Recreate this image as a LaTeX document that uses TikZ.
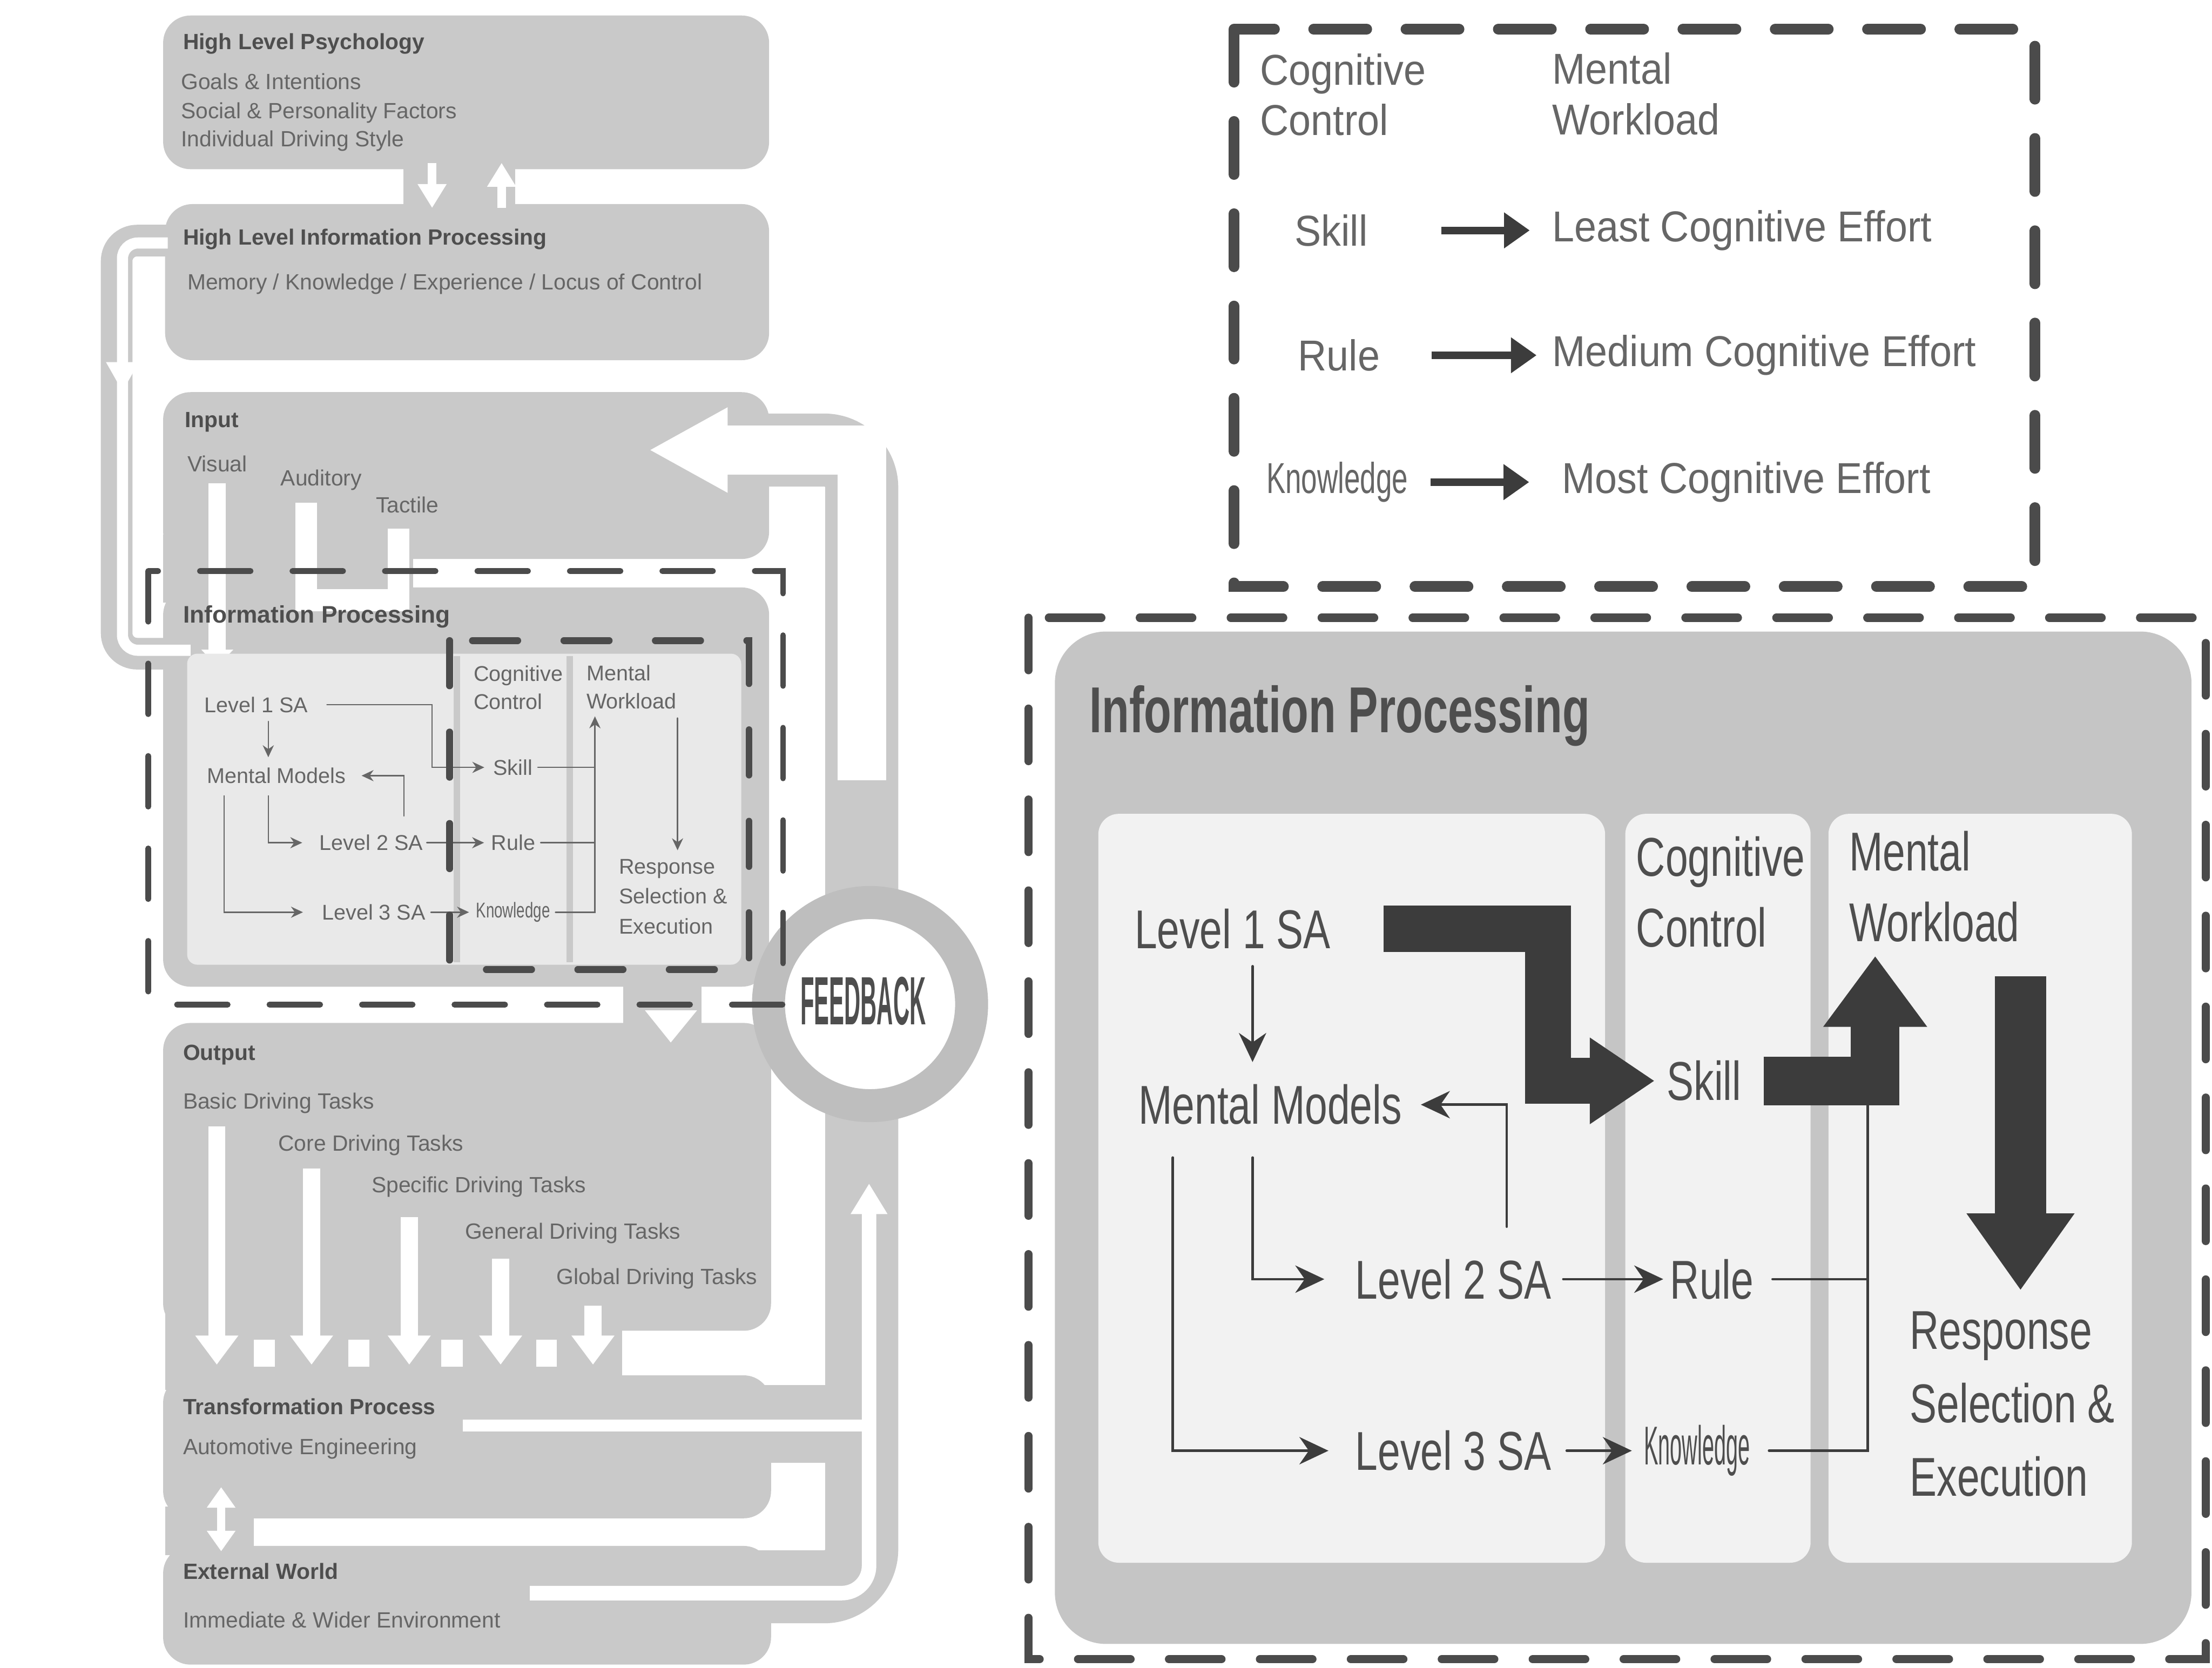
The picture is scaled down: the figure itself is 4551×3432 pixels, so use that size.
\documentclass[tikz,border=0pt]{standalone}
\usepackage{fontspec}
\setmainfont{Liberation Sans}
\usetikzlibrary{arrows.meta,positioning}
\definecolor{boxgray}{HTML}{C9C9C9}
\definecolor{ringgray}{HTML}{BEBEBE}
\definecolor{ipgray}{HTML}{C5C5C5}
\definecolor{panelgray}{HTML}{F2F2F2}
\definecolor{panelL}{HTML}{E9E9E9}
\definecolor{dashgray}{HTML}{4B4B4B}
\definecolor{txtdark}{HTML}{4E4E4E}
\definecolor{txtmid}{HTML}{666666}
\definecolor{inkdark}{HTML}{3C3C3C}

\begin{document}
\begin{tikzpicture}[x=0.01cm,y=-0.01cm,line cap=round,
  lbox/.style={fill=boxgray,rounded corners=16pt,inner sep=0pt},
  lhead/.style={anchor=west,inner sep=0pt,text=txtdark,font=\fontsize{12.9}{15}\selectfont\bfseries},
  lsub/.style={anchor=west,inner sep=0pt,text=txtmid,font=\fontsize{12.9}{15}\selectfont},
  stxt/.style={anchor=west,inner sep=0pt,text=txtmid,align=left,font=\fontsize{12.5}{16.5}\selectfont},
  rtxt/.style={anchor=west,inner sep=0pt,text=txtdark,align=left,xscale=0.74,font=\fontsize{32}{41.5}\selectfont},
  gtxt/.style={anchor=west,inner sep=0pt,text=txtmid,align=left,xscale=0.92,font=\fontsize{25.3}{29.6}\selectfont},
  panel/.style={fill=panelgray,rounded corners=12pt,inner sep=0pt,minimum height=15.4cm},
  sarr/.style={draw=txtmid,line width=0.8pt,-{Stealth[length=7pt,width=6.5pt]}},
  sline/.style={draw=txtmid,line width=0.8pt},
  tarr/.style={draw=inkdark,line width=1.5pt,-{Stealth[length=17pt,width=16pt]}},
  tline/.style={draw=inkdark,line width=1.5pt},
  larr/.style={draw=inkdark,line width=4.5pt,line cap=butt,-{Triangle[length=15pt,width=20pt]}},
  fat/.style={draw=inkdark,line cap=butt,line join=miter},
  wbar/.style={draw=white,line cap=butt},
  dashbox/.style={draw=dashgray,line cap=round}
]
\useasboundingbox (0,0) rectangle (4551,3432);

% gray feedback bands
\draw[boxgray,line width=42.7pt,line cap=butt,rounded corners=22pt] (1460,926) -- (1773,926) -- (1773,1860);
\draw[boxgray,line width=42.7pt,line cap=butt,rounded corners=22pt] (1773,2250) -- (1773,3265) -- (1480,3265);
\fill[boxgray] (1500,2850) rectangle (1773,3010);
\draw[boxgray,line width=18.5pt,line cap=butt,rounded corners=12pt] (350,495) -- (240,495) -- (240,1345) -- (350,1345);
\fill[boxgray] (830,330) rectangle (1060,440);
\fill[boxgray] (336,1100) rectangle (850,1240);
\fill[boxgray] (1282,2000) rectangle (1443,2130);
\fill[boxgray] (340,2700) rectangle (1280,2860);
\fill[boxgray] (340,3100) rectangle (522,3200);

% left column boxes
\node[lbox,minimum width=12.46cm,minimum height=3.16cm] (psych) at (959,190) {};
\node[lbox,minimum width=12.42cm,minimum height=3.21cm] (hlip) at (961,580.5) {};
\node[lbox,minimum width=12.46cm,minimum height=3.43cm] (input) at (959,978.5) {};
\node[lbox,minimum width=12.46cm,minimum height=8.21cm] (ipL) at (959,1619.5) {};
\node[lbox,minimum width=12.50cm,minimum height=6.33cm] (output) at (961,2421.5) {};
\node[lbox,minimum width=12.50cm,minimum height=2.94cm] (transf) at (961,2977) {};
\node[lbox,minimum width=12.50cm,minimum height=2.44cm] (world) at (961,3303) {};

\fill[white] (522,2757) rectangle (566,2812);
\fill[white] (717,2757) rectangle (760,2812);
\fill[white] (908,2757) rectangle (952,2812);
\fill[white] (1103,2757) rectangle (1146,2812);

% white flow arrows
\draw[wbar,line width=28.5pt] (1497,926) -- (1773,926) -- (1773,1606);
\fill[white] (1338,926) -- (1497,838) -- (1497,1014) -- cycle;
\draw[wbar,line width=6.5pt,rounded corners=9pt] (345,500) -- (252,500) -- (252,1338) -- (392,1338);
\fill[white] (218,745) -- (286,745) -- (252,805) -- cycle;
\draw[wbar,line width=5pt,-{Triangle[length=14pt,width=16pt]}] (889,335) -- (889,428);
\draw[wbar,line width=5pt,-{Triangle[length=14pt,width=16pt]}] (1032,428) -- (1032,335);
\draw[wbar,line width=10pt,-{Triangle[length=10pt,width=18pt]}] (447,994) -- (447,1372);
\draw[wbar,line width=12.8pt,line join=miter] (630,1034) -- (630,1235) -- (820,1235) -- (820,1088);
\fill[white] (1327,2079) -- (1434,2079) -- (1380,2145) -- cycle;
\draw[wbar,line width=10pt,-{Triangle[length=17pt,width=24pt]}] (446,2318) -- (446,2808);
\draw[wbar,line width=10pt,-{Triangle[length=17pt,width=24pt]}] (641,2404) -- (641,2808);
\draw[wbar,line width=10pt,-{Triangle[length=17pt,width=24pt]}] (842,2504) -- (842,2808);
\draw[wbar,line width=10pt,-{Triangle[length=17pt,width=24pt]}] (1030,2590) -- (1030,2808);
\draw[wbar,line width=10pt,-{Triangle[length=17pt,width=24pt]}] (1220,2686) -- (1220,2808);
\draw[wbar,line width=5pt,{Triangle[length=12pt,width=16pt]}-{Triangle[length=12pt,width=16pt]}] (455,3060) -- (455,3192);
\draw[wbar,line width=7pt] (952,2933) -- (1788,2933);
\draw[wbar,line width=8.5pt,rounded corners=16pt] (1788,2490) -- (1788,3278) -- (1090,3278);
\fill[white] (1788,2436) -- (1750,2498) -- (1826,2498) -- cycle;

% small information processing panel
\fill[panelL,rounded corners=6pt] (385,1345) rectangle (1525,1985);
\draw[boxgray,line width=4pt,line cap=butt] (940,1350) -- (940,1980);
\draw[boxgray,line width=4pt,line cap=butt] (1172,1350) -- (1172,1980);

% feedback ring
\draw[ringgray,line width=19.3pt,fill=white] (1790,2066) circle[radius=209];
\node[font=\fontsize{40}{40}\selectfont\bfseries,text=txtdark,xscale=0.33,inner sep=0pt] (fb) at (1776,2060) {FEEDBACK};

% left texts
\node[lhead] (psychT) at (376,90) {High Level Psychology};
\node[lsub] (goals) at (372,168) {Goals \& Intentions};
\node[lsub] (social) at (372,232) {Social \& Personality Factors};
\node[lsub] (drvstyle) at (372,290) {Individual Driving Style};
\node[lhead] (hlipT) at (376,492) {High Level Information Processing};
\node[lsub] (memory) at (385,584) {Memory / Knowledge / Experience / Locus of Control};
\node[lhead] (inputT) at (380,869) {Input};
\node[lsub] (visual) at (385,954) {Visual};
\node[lsub] (audit) at (577,988) {Auditory};
\node[lsub] (tact) at (773,1039) {Tactile};
\node[lhead,font=\fontsize{14}{16}\selectfont\bfseries] (ipLT) at (376,1269) {Information Processing};
\node[lhead] (outputT) at (376,2170) {Output};
\node[lsub] (basic) at (376,2270) {Basic Driving Tasks};
\node[lsub] (core) at (572,2356) {Core Driving Tasks};
\node[lsub] (specific) at (764,2442) {Specific Driving Tasks};
\node[lsub] (general) at (956,2538) {General Driving Tasks};
\node[lsub] (global) at (1144,2631) {Global Driving Tasks};
\node[lhead] (transfT) at (376,2894) {Transformation Process};
\node[lsub] (autoeng) at (376,2981) {Automotive Engineering};
\node[lhead] (worldT) at (376,3233) {External World};
\node[lsub] (environ) at (376,3333) {Immediate \& Wider Environment};

% small panel texts
\node[stxt] (sL1) at (420,1450) {Level 1 SA};
\node[stxt] (sMM) at (425,1596) {Mental Models};
\node[stxt] (sL2) at (657,1734) {Level 2 SA};
\node[stxt] (sL3) at (662,1877) {Level 3 SA};
\node[stxt] (sCC) at (974,1415) {Cognitive\\Control};
\node[stxt] (sMW) at (1206,1414) {Mental\\Workload};
\node[stxt] (sSk) at (1014,1579) {Skill};
\node[stxt] (sRu) at (1010,1734) {Rule};
\node[stxt,xscale=0.7] (sKn) at (979,1877) {Knowledge};
\node[stxt,font=\fontsize{12.5}{17.6}\selectfont] (sRe) at (1273,1845) {Response\\Selection \&\\Execution};
\coordinate (sb1) at (889,1500);
\coordinate (sv1) at (552,0);
\coordinate (sv2) at (461,0);
\coordinate (sv3) at (1224,0);
\coordinate (sv4) at (1394,0);
\coordinate (sfb) at (831,1679);
\draw[sarr,shorten <=11pt,shorten >=5pt] (sL1.east) -| (sb1) |- (sSk.west);
\draw[sarr,shorten <=5pt,shorten >=6pt] (sL1.south -| sv1) -- (sMM.north -| sv1);
\draw[sarr,shorten >=9pt] (sfb) |- (sMM.east);
\draw[sarr,shorten <=7pt,shorten >=10pt] (sMM.south -| sv1) |- (sL2.west);
\draw[sarr,shorten <=7pt,shorten >=11pt] (sMM.south -| sv2) |- (sL3.west);
\draw[sarr,shorten <=2pt,shorten >=4pt] (sL2.east) -- (sRu.west);
\draw[sarr,shorten <=3pt,shorten >=4pt] (sL3.east) -- (sKn.west);
\draw[sline,shorten <=3pt] (sSk.east) -- (sSk.east -| sv3);
\draw[sline,shorten <=3pt] (sRu.east) -- (sRu.east -| sv3);
\draw[sarr,shorten <=3pt,shorten >=4pt] (sKn.east) -| (sMW.south -| sv3);
\draw[sarr,shorten <=5pt,shorten >=5pt] (sMW.south -| sv4) -- (sRe.north -| sv4);

% dashed boxes
\draw[dashbox,line width=3.4pt,dash pattern=on 29.6pt off 24.5pt] (305,1175) rectangle (1611,2067);
\draw[dashbox,line width=4pt,dash pattern=on 26.5pt off 27pt] (925,1318) rectangle (1541,1995);

% legend
\draw[dashbox,line width=6.3pt,dash pattern=on 31pt off 23pt] (2539,60) rectangle (4187,1207);
\node[gtxt] (lgCC) at (2592,195) {Cognitive\\Control};
\node[gtxt] (lgMW) at (3193,193) {Mental\\Workload};
\node[gtxt] (lgSk) at (2663,474) {Skill};
\node[gtxt] (lgRu) at (2670,731) {Rule};
\node[gtxt,xscale=0.72] (lgKn) at (2605,992) {Knowledge};
\node[gtxt] (lgLe) at (3193,474) {Least Cognitive Effort};
\node[gtxt] (lgMe) at (3193,731) {Medium Cognitive Effort};
\node[gtxt] (lgMo) at (3213,992) {Most Cognitive Effort};
\draw[larr,shorten <=43pt,shorten >=13pt] (lgSk.east) -- (lgLe.west);
\draw[larr,shorten <=30pt,shorten >=9pt] (lgRu.east) -- (lgMe.west);
\draw[larr,shorten <=13pt,shorten >=19pt] (lgKn.east) -- (lgMo.west);

% enlarged information processing
\draw[dashbox,line width=4.8pt,dash pattern=on 30.7pt off 22.5pt] (2116,1271) rectangle (4538,3414);
\node[fill=ipgray,rounded corners=30pt,inner sep=0pt,minimum width=23.37cm,minimum height=20.82cm] (ipR) at (3339.5,2341) {};
\node[panel,minimum width=10.42cm] (panA) at (2781,2445) {};
\node[panel,minimum width=3.81cm] (panB) at (3534.5,2445) {};
\node[panel,minimum width=6.24cm] (panC) at (4074,2445) {};
\node[anchor=west,inner sep=0pt,text=txtdark,xscale=0.69,font=\fontsize{38}{40}\selectfont\bfseries] (ipRT) at (2241,1473) {Information Processing};

\node[rtxt] (lvA) at (2334,1911) {Level 1 SA};
\node[rtxt] (mm) at (2342,2273) {Mental Models};
\node[rtxt] (lvB) at (2788,2632) {Level 2 SA};
\node[rtxt] (lvC) at (2788,2985) {Level 3 SA};
\node[rtxt] (cc) at (3366,1835) {Cognitive\\Control};
\node[rtxt] (mw) at (3804,1824) {Mental\\Workload};
\node[rtxt] (skill) at (3429,2224) {Skill};
\node[rtxt] (rule) at (3436,2632) {Rule};
\node[rtxt,xscale=0.53] (know) at (3382,2985) {Knowledge};
\node[rtxt,font=\fontsize{32}{43}\selectfont] (resp) at (3929,2889) {Response\\Selection \&\\Execution};

\coordinate (rv1) at (2577,0);
\coordinate (rv2) at (2413,0);
\coordinate (rv3) at (3843,0);
\coordinate (rfb) at (3100,2524);
\coordinate (vbar) at (3185,2000);
\coordinate (upTip) at (3858,1967);
\coordinate (dnTop) at (4157,2009);
\coordinate (dnTip) at (4157,2655);
\coordinate (knUp) at (3843,2252);

\draw[fat,line width=27pt,-{Triangle[length=38pt,width=48pt]},shorten <=31pt,shorten >=7pt] (lvA.east) -| (vbar) |- (skill.west);
\draw[fat,line width=28.5pt,-{Triangle[length=41.5pt,width=58pt]},shorten <=13pt] (skill.east) -| (upTip);
\draw[fat,line width=30pt,-{Triangle[length=45pt,width=60pt]}] (dnTop) -- (dnTip);

\draw[tarr,shorten <=10pt,shorten >=13pt] (lvA.south -| rv1) -- (mm.north -| rv1);
\draw[tarr,shorten >=11pt] (rfb) |- (mm.east);
\draw[tarr,shorten <=19pt,shorten >=18pt] (mm.south -| rv1) |- (lvB.west);
\draw[tarr,shorten <=19pt,shorten >=15.6pt] (mm.south -| rv2) |- (lvC.west);
\draw[tarr,shorten <=7pt,shorten >=4pt] (lvB.east) -- (rule.west);
\draw[tarr,shorten <=9pt,shorten >=7pt] (lvC.east) -- (know.west);
\draw[tline,shorten <=11pt] (rule.east) -- (rule.east -| rv3);
\draw[tline,shorten <=11pt] (know.east) -| (knUp);
\end{tikzpicture}
\end{document}
